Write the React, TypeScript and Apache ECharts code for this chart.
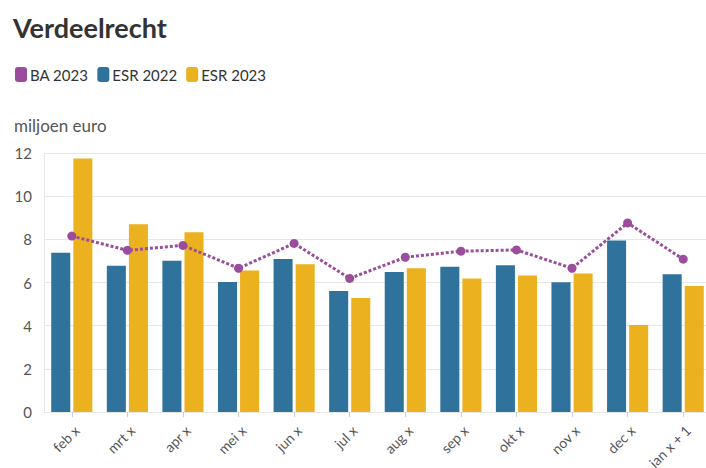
import React, { useEffect, useRef } from "react";
import * as echarts from "echarts";

const categories = ["feb x", "mrt x", "apr x", "mei x", "jun x", "jul x", "aug x", "sep x", "okt x", "nov x", "dec x", "ian x + 1"];
const esr2022 = [7.38, 6.78, 7.01, 6.02, 7.09, 5.61, 6.49, 6.73, 6.8, 6.01, 7.95, 6.38];
const esr2023 = [11.75, 8.7, 8.33, 6.56, 6.84, 5.28, 6.66, 6.18, 6.33, 6.42, 4.03, 5.84];
const ba2023 = [8.15, 7.49, 7.72, 6.66, 7.81, 6.19, 7.17, 7.45, 7.51, 6.66, 8.76, 7.08];
const yTicks = { min: 0, max: 12, interval: 2 };

const FONT = "Lato, 'Noto Sans', sans-serif";
const C_BA = "#9b4d9d";
const C_22 = "#2f729c";
const C_23 = "#ebb11f";

export default function App() {
  const ref = useRef<HTMLDivElement>(null);
  useEffect(() => {
    if (!ref.current) return;
    const chart = echarts.init(ref.current, null, { renderer: "svg" });
    chart.setOption({
      animation: false,
      textStyle: { fontFamily: FONT },
      title: {
        text: "Verdeelrecht",
        left: 8,
        top: 9,
        textStyle: { fontFamily: FONT, fontSize: 27, fontWeight: "bold", color: "#333" },
      },
      legend: {
        data: ["BA 2023", "ESR 2022", "ESR 2023"],
        left: 10,
        top: 62,
        icon: "roundRect",
        itemWidth: 12,
        itemHeight: 15,
        itemGap: 9,
        textStyle: { fontFamily: FONT, fontSize: 15, color: "#333", padding: [0, 0, 0, -2] },
      },
      graphic: [
        {
          type: "text",
          left: 14,
          top: 117,
          style: { text: "miljoen euro", fontFamily: FONT, fontSize: 17, fill: "#555" },
        },
      ],
      grid: {
        left: 44,
        top: 153,
        width: 667,
        height: 259,
        containLabel: false,
        outerBoundsMode: "none",
      },
      xAxis: {
        type: "category",
        data: categories,
        axisLine: { show: true, lineStyle: { color: "#e6e6e6" } },
        axisTick: { show: true, alignWithLabel: true, length: 5, lineStyle: { color: "#ccc" } },
        axisLabel: {
          rotate: 45,
          fontFamily: FONT,
          fontSize: 14,
          color: "#555",
          margin: 11,
          verticalAlign: "top",
        },
      },
      yAxis: {
        type: "value",
        min: yTicks.min,
        max: yTicks.max,
        interval: yTicks.interval,
        axisLine: { show: true, lineStyle: { color: "#e6e6e6" } },
        axisTick: { show: false },
        splitLine: { lineStyle: { color: "#e6e6e6" } },
        axisLabel: { fontFamily: FONT, fontSize: 15, color: "#555", margin: 12 },
      },
      series: [
        {
          name: "ESR 2022",
          type: "bar",
          data: esr2022,
          itemStyle: { color: C_22 },
          barGap: "16%",
          barCategoryGap: "26%",
        },
        {
          name: "ESR 2023",
          type: "bar",
          data: esr2023,
          itemStyle: { color: C_23 },
          barGap: "16%",
          barCategoryGap: "26%",
        },
        {
          name: "BA 2023",
          type: "line",
          data: ba2023,
          symbol: "circle",
          symbolSize: 9,
          itemStyle: { color: C_BA },
          lineStyle: { color: C_BA, width: 3, type: [3, 2] },
          z: 5,
        },
      ],
    });
    return () => chart.dispose();
  }, []);
  return (
    <div
      ref={ref}
      style={{ position: "absolute", left: 0, top: 0, width: 706, height: 468, background: "#fff" }}
    />
  );
}
